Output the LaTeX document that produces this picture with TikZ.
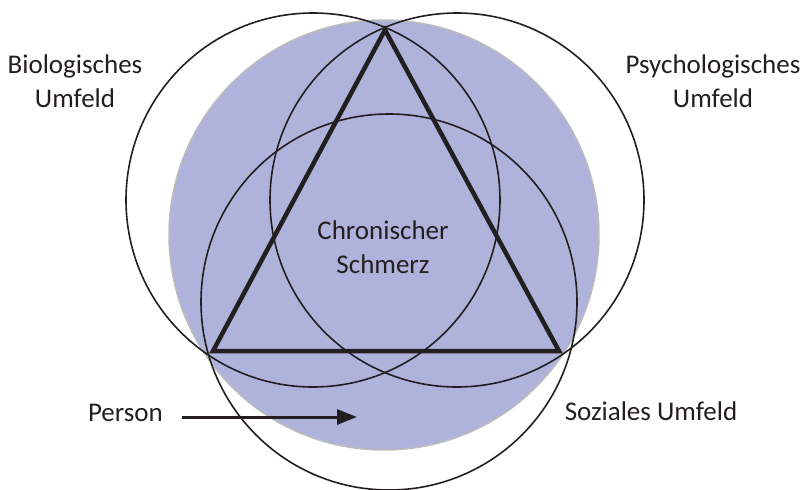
\documentclass[tikz,border=0pt]{standalone}
\usepackage{fontspec}
\setmainfont{Carlito}
\usetikzlibrary{arrows.meta}
\definecolor{ink}{HTML}{231F20}
\definecolor{lavender}{HTML}{AFB2DA}
\definecolor{rimgray}{HTML}{BDBDBD}
\tikzset{
  ring/.style={draw=ink, line width=1.6pt},
  person disc/.style={fill=lavender, draw=rimgray, line width=1.5pt},
  pain triangle/.style={draw=ink, line width=4.5pt, line join=miter},
  label/.style={text=ink, font=\fontsize{27}{34}\selectfont, align=center, inner sep=0pt},
  pointer/.style={draw=ink, line width=3pt, -{Triangle[length=20pt,width=15pt]}}
}
\begin{document}
\begin{tikzpicture}[x=1pt, y=-1pt]
  \useasboundingbox (0,0) rectangle (804,490);

  % the person as a shaded disc
  \path[person disc] (384,235) circle[radius=215];

  % the three surroundings
  \draw[ring] (313,200) circle[radius=187];
  \draw[ring] (457,200) circle[radius=187];
  \draw[ring] (389,302) circle[radius=188];

  % chronic pain triangle
  \draw[pain triangle] (385,30) -- (213,351) -- (559,351) -- cycle;

  % labels (base anchor sits on the last line)
  \node[label, anchor=base] (bio)   at (75,107)  {Biologisches\\Umfeld};
  \node[label, anchor=base] (psy)   at (713,107) {Psychologisches\\Umfeld};
  \node[label, anchor=base] (pain)  at (383,273) {Chronischer\\Schmerz};
  \node[label, anchor=base] (soz)   at (651,420) {Soziales Umfeld};
  \node[label, anchor=base east] (person) at (163,421) {Person};

  % arrow pointing into the person
  \coordinate (inside) at (357,417);
  \draw[pointer] ([xshift=19pt]person.east |- inside) -- (inside);
\end{tikzpicture}
\end{document}
